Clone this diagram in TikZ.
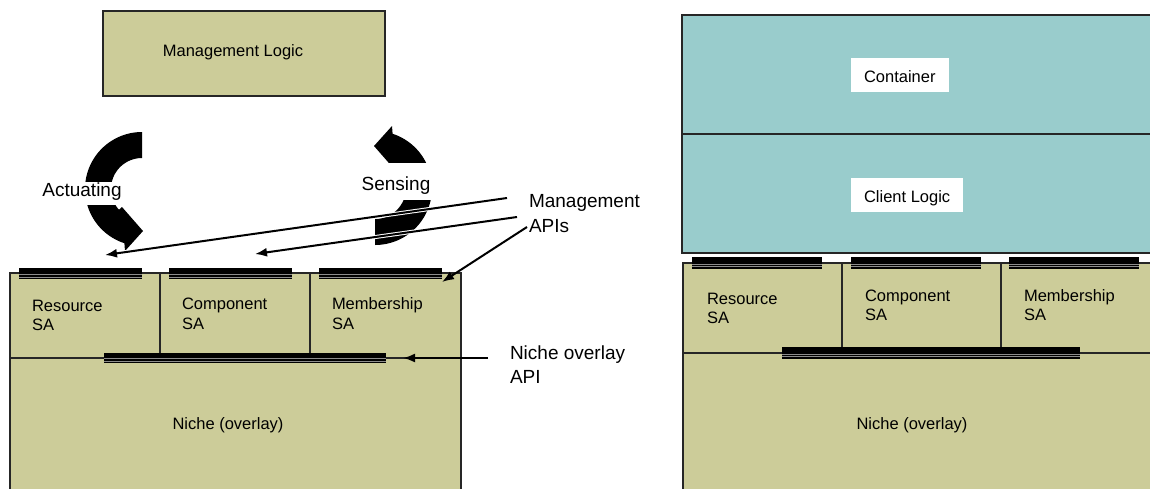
\documentclass[tikz,border=0pt]{standalone}
\usepackage{fontspec}
\setmainfont{Liberation Sans}
\usetikzlibrary{arrows.meta}
\definecolor{khaki}{HTML}{CCCC99}
\definecolor{tealbox}{HTML}{99CCCC}
\definecolor{stripe}{HTML}{8C8C8C}

% interface bar: black band with thin light stripes (x1, x2, ytop, ybottom)
\newcommand\apibar[4]{%
  \fill[black] (#1,#3) rectangle (#2,#4);
  \draw[stripe, line width=0.7pt] (#1,{#3+0.58*(#4-#3)}) -- (#2,{#3+0.58*(#4-#3)});
  \draw[stripe, line width=0.7pt] (#1,{#3+0.82*(#4-#3)}) -- (#2,{#3+0.82*(#4-#3)});
}

\tikzset{
  block/.style={draw=black!85, line width=1.1pt, fill=khaki},
  cyanblock/.style={draw=black!85, line width=1.1pt, fill=tealbox},
  edge/.style={draw=black!85, line width=1.1pt},
  small/.style={inner sep=0pt, outer sep=0pt, font=\fontsize{16.5}{19.5}\selectfont},
  smallml/.style={small, align=left},
  big/.style={inner sep=0pt, outer sep=0pt, font=\fontsize{19}{24.5}\selectfont},
  bigml/.style={big, align=left},
  casing/.style={draw=white, line width=4pt, shorten >=12pt},
  connector/.style={draw=black, line width=2pt, -{Latex[length=12pt,width=9pt]}},
  pics/turnarrow/.style={code={
    \fill[black] plot[domain=270:108, samples=60] ({57*cos(\x)},{57*sin(\x)})
      -- (-17,62) -- (1,42) -- (-20,18)
      -- plot[domain=138:270, samples=50] ({31*cos(\x)},{31*sin(\x)}) -- cycle;
  }}
}

\begin{document}
\begin{tikzpicture}[x=1pt,y=-1pt]
\clip (0,0) rectangle (1150,488);
\fill[white] (0,0) rectangle (1150,488);

% ---------- left: managed element ----------
\draw[block] (103,11) rectangle (385,96);
\node[small, anchor=base] (mlogic) at (233,56.5) {Management Logic};

\draw[block] (10,273) rectangle (461,495);
\draw[edge] (160,273) -- (160,358) (310,273) -- (310,358) (10,358) -- (461,358);

\apibar{19}{142}{268}{279}
\apibar{169}{292}{268}{279}
\apibar{319}{442}{268}{279}
\apibar{104}{386}{353}{363}

\node[smallml, anchor=north west] (resL) at (32,300) {Resource\\SA};
\node[smallml, anchor=north west] (compL) at (182,298) {Component\\SA};
\node[smallml, anchor=north west] (membL) at (332,298) {Membership\\SA};
\node[small, anchor=base] (nicheL) at (228,429) {Niche (overlay)};

% control loop arrows
\pic at (142,189) {turnarrow};
\pic[rotate=180] at (375,188) {turnarrow};
\node[big, fill=white, inner xsep=2pt, text height=14pt, text depth=9pt, anchor=base] (act) at (82,196) {Actuating};
\node[big, fill=white, inner xsep=3pt, text height=27pt, text depth=10pt, anchor=base] (sens) at (396,190) {Sensing};

% annotations
\node[bigml, anchor=north west] (mapis) at (529,194.5) {Management\\APIs};
\node[bigml, anchor=north west] (napi) at (510,345.5) {Niche overlay\\API};

\coordinate (m1) at (507,198);
\coordinate (m2) at (517,217);
\coordinate (m3) at (527,227);
\coordinate (t1) at (105,255);
\coordinate (t2) at (255,254);
\coordinate (t3) at (442,282);
\coordinate (n1) at (488,358);
\coordinate (n2) at (403,358);

\draw[casing] (m1) -- (t1);
\draw[casing] (m2) -- (t2);
\draw[connector] (m1) -- (t1);
\draw[connector] (m2) -- (t2);
\draw[connector] (m3) -- (t3);
\draw[connector] (n1) -- (n2);

% ---------- right: client element ----------
\draw[cyanblock] (682,15) rectangle (1160,134);
\draw[cyanblock] (682,134) rectangle (1160,253);
\node[small, fill=white, inner xsep=13pt, text height=24.5pt, text depth=9.5pt, anchor=base west] (cont) at (851,82.5) {Container};
\node[small, fill=white, inner xsep=13pt, text height=24.5pt, text depth=9.5pt, anchor=base west] (clogic) at (851,202.5) {Client Logic};

\draw[block] (683,263) rectangle (1160,495);
\draw[edge] (842,263) -- (842,353) (1001,263) -- (1001,353) (683,353) -- (1160,353);

\apibar{692}{822}{257}{269}
\apibar{851}{981}{257}{269}
\apibar{1009}{1139}{257}{269}
\apibar{782}{1080}{347}{359}

\node[smallml, anchor=north west] (resR) at (707,293) {Resource\\SA};
\node[smallml, anchor=north west] (compR) at (865,289.5) {Component\\SA};
\node[smallml, anchor=north west] (membR) at (1024,289.5) {Membership\\SA};
\node[small, anchor=base] (nicheR) at (912,429.5) {Niche (overlay)};
\end{tikzpicture}
\end{document}
